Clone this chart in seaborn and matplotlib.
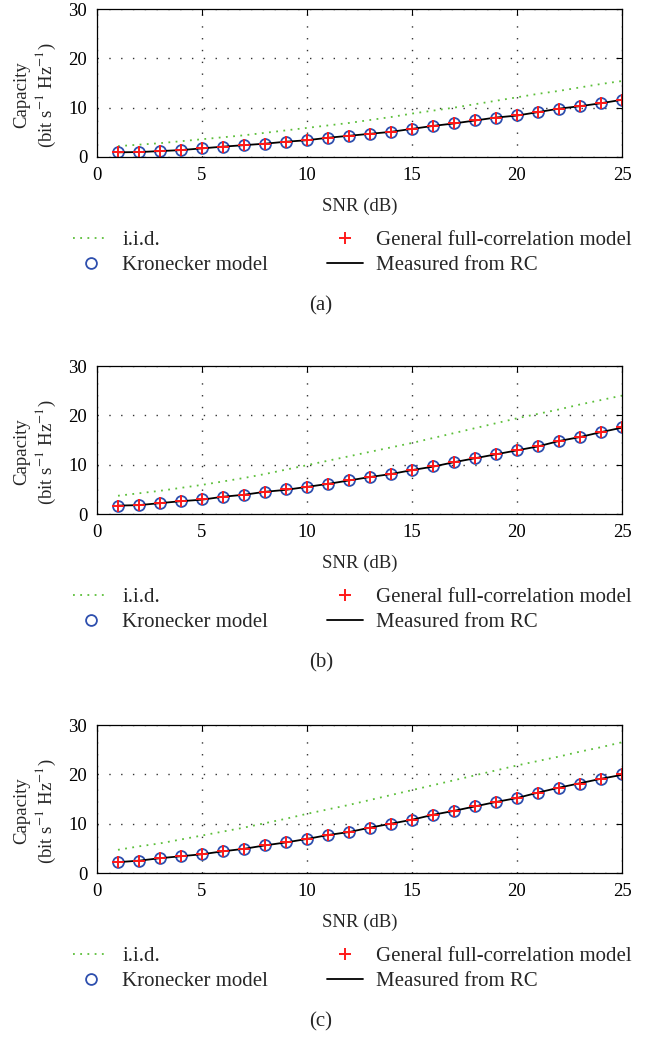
import numpy as np
import pandas as pd
import seaborn as sns
import matplotlib
matplotlib.use("Agg")
import matplotlib.pyplot as plt

# ---------------- data ----------------
snr_db = list(range(1, 26))

iid_a = [2.2, 2.5, 2.8, 3.2, 3.6, 4.0, 4.4, 4.9, 5.4, 5.9, 6.4, 6.9, 7.5, 8.1, 8.8,
         9.4, 10.0, 10.7, 11.4, 12.1, 12.8, 13.4, 14.1, 14.8, 15.4]
meas_a = [0.95, 1.0, 1.2, 1.4, 1.75, 2.1, 2.4, 2.7, 3.1, 3.4, 3.9, 4.3, 4.7, 5.1, 5.7,
          6.3, 6.8, 7.4, 8.0, 8.4, 9.1, 9.8, 10.3, 10.9, 11.6]
kron_a = [0.95, 1.0, 1.2, 1.4, 1.75, 2.1, 2.4, 2.7, 3.1, 3.4, 3.9, 4.3, 4.7, 5.1, 5.7,
          6.3, 6.8, 7.4, 8.0, 8.5, 9.1, 9.8, 10.4, 11.0, 11.6]
gen_a = [0.95, 1.0, 1.2, 1.4, 1.75, 2.1, 2.4, 2.7, 3.1, 3.4, 3.9, 4.3, 4.7, 5.1, 5.7,
         6.3, 6.8, 7.4, 8.0, 8.5, 9.1, 9.8, 10.4, 11.0, 11.6]

iid_b = [3.7, 4.2, 4.7, 5.3, 5.9, 6.6, 7.3, 8.1, 9.0, 9.9, 10.8, 11.7, 12.6, 13.5, 14.4,
         15.4, 16.4, 17.4, 18.4, 19.4, 20.3, 21.2, 22.2, 23.1, 24.0]
meas_b = [1.7, 1.8, 2.2, 2.6, 2.9, 3.5, 3.9, 4.5, 4.9, 5.5, 6.1, 6.8, 7.5, 8.1, 8.9,
          9.6, 10.5, 11.3, 12.1, 12.9, 13.7, 14.8, 15.6, 16.6, 17.5]
kron_b = [1.7, 1.9, 2.2, 2.6, 3.0, 3.5, 3.9, 4.5, 5.0, 5.5, 6.1, 6.8, 7.5, 8.2, 8.9,
          9.7, 10.5, 11.3, 12.1, 12.9, 13.8, 14.8, 15.7, 16.7, 17.6]
gen_b = [1.7, 1.9, 2.2, 2.6, 3.0, 3.5, 3.9, 4.5, 5.0, 5.5, 6.1, 6.8, 7.5, 8.2, 8.9,
         9.7, 10.5, 11.3, 12.1, 12.9, 13.8, 14.8, 15.7, 16.7, 17.6]

iid_c = [4.7, 5.4, 6.0, 6.8, 7.6, 8.4, 9.2, 10.1, 11.0, 12.0, 12.9, 13.8, 14.8, 15.8, 16.8,
         17.8, 18.8, 19.8, 20.8, 21.8, 22.7, 23.6, 24.6, 25.5, 26.5]
meas_c = [2.2, 2.5, 3.0, 3.4, 3.8, 4.4, 4.9, 5.6, 6.2, 6.9, 7.7, 8.3, 9.2, 10.0, 10.8,
          11.8, 12.6, 13.5, 14.4, 15.2, 16.3, 17.3, 18.2, 19.1, 19.9]
kron_c = [2.2, 2.5, 3.0, 3.4, 3.8, 4.4, 4.9, 5.6, 6.2, 6.9, 7.7, 8.3, 9.2, 10.0, 10.8,
          11.8, 12.6, 13.5, 14.4, 15.2, 16.2, 17.2, 18.1, 19.1, 20.1]
gen_c = [2.2, 2.5, 3.0, 3.4, 3.8, 4.4, 4.9, 5.6, 6.2, 6.9, 7.7, 8.3, 9.2, 10.0, 10.8,
         11.8, 12.6, 13.5, 14.4, 15.2, 16.2, 17.2, 18.1, 19.1, 20.1]

panels = [("(a)", iid_a, kron_a, gen_a, meas_a),
          ("(b)", iid_b, kron_b, gen_b, meas_b),
          ("(c)", iid_c, kron_c, gen_c, meas_c)]

x_ticks = [0, 5, 10, 15, 20, 25]
y_ticks = [0, 10, 20, 30]
legend_labels = ["i.i.d.", "Kronecker model", "General full-correlation model", "Measured from RC"]
x_label = "SNR (dB)"
y_label = "Capacity\n(bit s$^{-1}$ Hz$^{-1}$)"

# ---------------- style ----------------
sns.set_style("white")
plt.rcParams["font.family"] = ["Liberation Serif", "DejaVu Serif"]
plt.rcParams["mathtext.fontset"] = "stix"

GREEN = "#5cbf3a"
BLUE = "#2e4fae"
RED = "#ff1a1a"

W, H = 656, 1038
fig = plt.figure(figsize=(W / 100, H / 100), dpi=100)

ax_left, ax_right = 97, 622
tops = [9, 366, 725]
ax_h = 148
FS = 13.5

for (cap, iid, kron, gen, meas), top in zip(panels, tops):
    bottom = top + ax_h
    ax = fig.add_axes([ax_left / W, 1 - bottom / H, (ax_right - ax_left) / W, ax_h / H])
    df = pd.DataFrame({"snr": snr_db, "iid": iid, "kron": kron, "gen": gen, "meas": meas})

    sns.lineplot(data=df, x="snr", y="iid", ax=ax, color=GREEN, lw=1.3,
                 linestyle=(0, (1, 3)), label=legend_labels[0])
    sns.lineplot(data=df, x="snr", y="kron", ax=ax, linestyle="", marker="o",
                 markersize=7.8, markerfacecolor="none", markeredgecolor=BLUE,
                 markeredgewidth=1.3, color=BLUE, label=legend_labels[1])
    sns.lineplot(data=df, x="snr", y="meas", ax=ax, color="black", lw=1.3,
                 label=legend_labels[3])
    sns.lineplot(data=df, x="snr", y="gen", ax=ax, linestyle="", marker="+",
                 markersize=8.5, markeredgecolor=RED, markeredgewidth=1.4,
                 color=RED, label=legend_labels[2])

    ax.set_xlim(0, 25)
    ax.set_ylim(0, 30)
    ax.set_xticks(x_ticks)
    ax.set_yticks(y_ticks)
    ax.grid(True, color="#333333", linestyle=(0, (1, 7.5)), lw=1.0)
    ax.tick_params(direction="in", length=4, width=0.8, top=True, right=True,
                   labelsize=FS, pad=7, colors="black")
    for sp in ax.spines.values():
        sp.set_visible(True)
        sp.set_color("black")
        sp.set_linewidth(0.9)

    ax.set_xlabel(x_label, fontsize=FS)
    ax.xaxis.label.set_va("center")
    ax.xaxis.set_label_coords(0.5, -49 / ax_h)
    ax.set_ylabel(y_label, fontsize=FS, linespacing=1.2)
    ax.yaxis.label.set_va("center")
    ax.yaxis.label.set_ha("center")
    ax.yaxis.set_label_coords(-(ax_left - 36) / (ax_right - ax_left), 0.42)

    h, l = ax.get_legend_handles_labels()
    ax.get_legend().remove()
    order = [l.index(t) for t in legend_labels]
    fig.legend([h[i] for i in order], [l[i] for i in order],
               loc="center left", bbox_to_anchor=(73 / W, 1 - (bottom + 96) / H),
               ncol=2, frameon=False, fontsize=15, borderpad=0,
               handlelength=1.75, handletextpad=0.62, columnspacing=2.8,
               labelspacing=0.25, borderaxespad=0)

    fig.text(321 / W, 1 - (bottom + 149) / H, cap, ha="center", va="center", fontsize=15)

fig.savefig("out.png", dpi=100)
